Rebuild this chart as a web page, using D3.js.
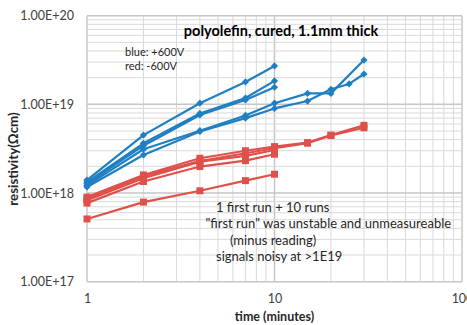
<!DOCTYPE html>
<html>
<head>
<meta charset="utf-8">
<script src="https://cdn.jsdelivr.net/npm/d3@7"></script>
<style>
  body { margin: 0; background: #fff; }
  svg { display: block; font-family: Lato, "Open Sans", sans-serif; }
</style>
</head>
<body>
<svg id="chart" width="467" height="325"></svg>
<script>
// time (minutes) for each run
var timesShort = [1, 2, 4, 7, 10];
var timesB4 = [1, 2, 4, 7, 10, 15, 20, 30];
var timesB5 = [1, 2, 4, 7, 10, 15, 20, 25, 30];
var timesLong = [1, 2, 4, 7, 10, 15, 20, 30];

// +600V runs (blue)
var blue1 = [1.40e18, 4.5e18, 1.03e19, 1.79e19, 2.71e19];
var blue2 = [1.33e18, 3.64e18, 7.9e18, 1.18e19, 1.84e19];
var blue3 = [1.28e18, 3.42e18, 7.6e18, 1.12e19, 1.56e19];
var blue4 = [1.22e18, 3.12e18, 5.05e18, 7.5e18, 1.03e19, 1.33e19, 1.33e19, 3.16e19];
var blue5 = [1.17e18, 2.69e18, 4.95e18, 7.0e18, 9.0e18, 1.09e19, 1.48e19, 1.7e19, 2.2e19];

// -600V runs (red)
var red1 = [9.0e17, 1.6e18, 2.47e18, 3.0e18, 3.34e18, 3.7e18, 4.5e18, 5.8e18];
var red2 = [8.6e17, 1.55e18, 2.3e18, 2.81e18, 3.2e18, 3.65e18, 4.45e18, 5.45e18];
var red3 = [8.3e17, 1.47e18, 2.26e18, 2.62e18, 3.06e18];
var red4 = [7.7e17, 1.35e18, 1.99e18, 2.32e18, 2.74e18];
var red5 = [5.1e17, 7.9e17, 1.06e18, 1.38e18, 1.63e18];

var yTickLabels = ["1.00E+17", "1.00E+18", "1.00E+19", "1.00E+20"];
var xTickLabels = ["1", "10", "100"];

var blueColor = "#1f7fc3";
var redColor = "#e0504b";

var series = [
    { t: timesShort, v: blue1, c: blueColor, m: "diamond" },
    { t: timesShort, v: blue2, c: blueColor, m: "diamond" },
    { t: timesShort, v: blue3, c: blueColor, m: "diamond" },
    { t: timesB4, v: blue4, c: blueColor, m: "diamond" },
    { t: timesB5, v: blue5, c: blueColor, m: "diamond" },
    { t: timesLong, v: red1, c: redColor, m: "square" },
    { t: timesLong, v: red2, c: redColor, m: "square" },
    { t: timesShort, v: red3, c: redColor, m: "square" },
    { t: timesShort, v: red4, c: redColor, m: "square" },
    { t: timesShort, v: red5, c: redColor, m: "square" }
];

var plotLeft = 87, plotRight = 462, plotTop = 15.7, plotBottom = 281.7;

var x = d3.scaleLog().domain([1, 100]).range([plotLeft, plotRight]);
var y = d3.scaleLog().domain([1e17, 1e20]).range([plotBottom, plotTop]);

var svg = d3.select("#chart");

function isMajor(d) {
    var l = Math.log10(d);
    return Math.abs(l - Math.round(l)) < 1e-9;
}

// minor + major gridlines
var xGrid = [];
for (var d = 1; d <= 100; d *= 10) {
    for (var k = 1; k <= 9; k++) {
        if (d * k <= 100) xGrid.push(d * k);
    }
}
var yGrid = [];
for (var e = 17; e < 20; e++) {
    for (var k = 1; k <= 9; k++) yGrid.push(k * Math.pow(10, e));
}
yGrid.push(1e20);

svg.append("g").selectAll("line")
    .data(xGrid).enter().append("line")
    .attr("x1", function (d) { return x(d); })
    .attr("x2", function (d) { return x(d); })
    .attr("y1", plotTop).attr("y2", plotBottom)
    .attr("stroke", function (d) { return isMajor(d) ? "#c6c6c6" : "#d9d9d9"; })
    .attr("stroke-width", function (d) { return isMajor(d) ? 1.5 : 1; });

svg.append("g").selectAll("line")
    .data(yGrid).enter().append("line")
    .attr("x1", plotLeft).attr("x2", plotRight)
    .attr("y1", function (d) { return y(d); })
    .attr("y2", function (d) { return y(d); })
    .attr("stroke", function (d) { return isMajor(d) ? "#c6c6c6" : "#d9d9d9"; })
    .attr("stroke-width", function (d) { return isMajor(d) ? 1.5 : 1; });

// axes (labels only, Excel style)
var yAxis = d3.axisLeft(y)
    .tickValues([1e17, 1e18, 1e19, 1e20])
    .tickFormat(function (d, i) { return yTickLabels[i]; })
    .tickSize(0).tickPadding(13);
svg.append("g").attr("transform", "translate(" + plotLeft + ",0)").call(yAxis)
    .call(function (g) { g.select(".domain").remove(); })
    .selectAll("text").attr("font-size", 12.5).attr("fill", "#404040")
    .attr("font-family", "Lato, sans-serif");

var xAxis = d3.axisBottom(x)
    .tickValues([1, 10, 100])
    .tickFormat(function (d, i) { return xTickLabels[i]; })
    .tickSize(0).tickPadding(12);
svg.append("g").attr("transform", "translate(0," + plotBottom + ")").call(xAxis)
    .call(function (g) { g.select(".domain").remove(); })
    .selectAll("text").attr("font-size", 12.5).attr("fill", "#404040")
    .attr("font-family", "Lato, sans-serif");

// lines
var line = d3.line()
    .x(function (d) { return x(d[0]); })
    .y(function (d) { return y(d[1]); });

series.forEach(function (s) {
    var pts = s.t.map(function (t, i) { return [t, s.v[i]]; });
    svg.append("path")
        .attr("d", line(pts))
        .attr("fill", "none")
        .attr("stroke", s.c)
        .attr("stroke-width", 2.2)
        .attr("stroke-linejoin", "round");
});

// markers
series.forEach(function (s) {
    var pts = s.t.map(function (t, i) { return [t, s.v[i]]; });
    var sym = s.m == "square"
        ? d3.symbol().type(d3.symbolSquare).size(49)
        : d3.symbol().type(d3.symbolSquare).size(26);
    svg.append("g").selectAll("path")
        .data(pts).enter().append("path")
        .attr("d", sym)
        .attr("fill", s.c)
        .attr("transform", function (d) {
            var tr = "translate(" + x(d[0]) + "," + y(d[1]) + ")";
            return s.m == "square" ? tr : tr + " rotate(45)";
        });
});

// titles
svg.append("text")
    .attr("x", 281).attr("y", 36)
    .attr("text-anchor", "middle")
    .attr("font-size", 14.5).attr("font-weight", "bold")
    .attr("fill", "#000")
    .text("polyolefin, cured, 1.1mm thick");

svg.append("text")
    .attr("x", 125).attr("y", 55.5)
    .attr("font-size", 11).attr("fill", "#262626")
    .text("blue: +600V");
svg.append("text")
    .attr("x", 125).attr("y", 69.5)
    .attr("font-size", 11).attr("fill", "#262626")
    .text("red: -600V");

svg.append("text")
    .attr("transform", "translate(18,159) rotate(-90)")
    .attr("text-anchor", "middle")
    .attr("font-size", 13.3).attr("font-weight", "bold")
    .attr("fill", "#262626")
    .text("resistivity(Ωcm)");

svg.append("text")
    .attr("x", 274.5).attr("y", 321)
    .attr("text-anchor", "middle")
    .attr("font-size", 12.5).attr("font-weight", "bold")
    .attr("fill", "#262626")
    .text("time (minutes)");

// notes
var notes = [
    { x: 216, y: 212, s: "1 first run + 10 runs" },
    { x: 205.5, y: 228, s: "\"first run\" was unstable and unmeasureable" },
    { x: 230, y: 244.5, s: "(minus reading)" },
    { x: 216, y: 261, s: "signals noisy at >1E19" }
];
svg.append("g").selectAll("text")
    .data(notes).enter().append("text")
    .attr("x", function (d) { return d.x; })
    .attr("y", function (d) { return d.y; })
    .attr("font-size", 13).attr("fill", "#262626")
    .text(function (d) { return d.s; });
</script>
</body>
</html>
